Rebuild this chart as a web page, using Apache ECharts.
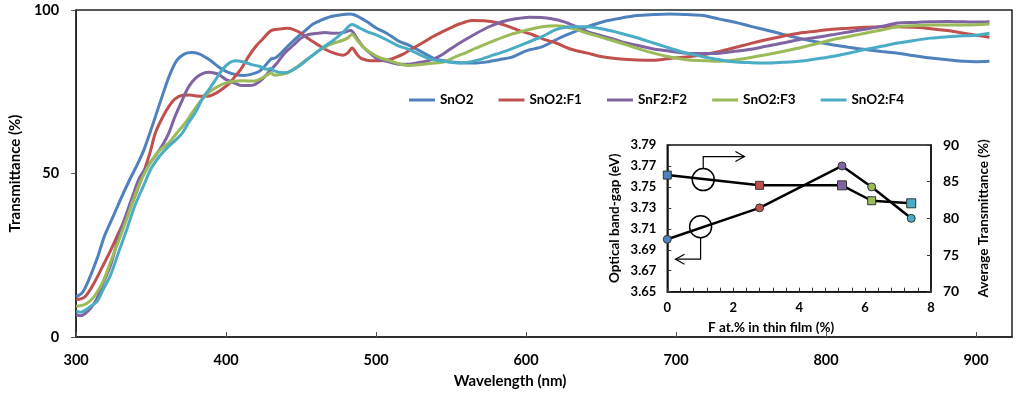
<!DOCTYPE html>
<html>
<head>
<meta charset="utf-8">
<script src="https://cdn.jsdelivr.net/npm/echarts@6/dist/echarts.min.js"></script>
<style>
html,body{margin:0;padding:0;background:#fff;}
#chart{width:1024px;height:394px;}
</style>
</head>
<body>
<div id="chart"></div>
<script>
// ---- Main chart data (wavelength nm, transmittance %) ----
const seriesNames = ['SnO2', 'SnO2:F1', 'SnF2:F2', 'SnO2:F3', 'SnO2:F4'];
const xTicks = [300, 400, 500, 600, 700, 800, 900];
const yTicks = [0, 50, 100];

const sno2 = [[300,12.3],[304,13.5],[308,17],[314,24],[319,31],[325,37.2],[330,42.5],[336,48.4],[340,52],[345,57],[350,63.5],[354,69],[358,74.5],[362,79.7],[367,84.5],[372,86.5],[377,87],[382,86.6],[386,85.6],[390,84.4],[395,82.6],[401,81],[406,80.3],[412,80],[417,80.4],[422,81.2],[427,83.5],[430,85],[433,85.4],[436,86.5],[441,88.9],[447,91.5],[452,93.4],[458,95.7],[463,96.8],[470,98],[476,98.5],[483,98.8],[488,98],[494,96.4],[500,94.5],[507,92.9],[515,90.5],[522,89.2],[530,87.3],[538,85.3],[545,84.5],[552,84],[560,83.8],[567,83.8],[575,84.2],[582,84.8],[590,85.5],[600,87.5],[611,88.8],[620,90.9],[630,92.9],[641,94.9],[652,96.5],[663,97.5],[674,98.3],[685,98.6],[696,98.8],[707,98.6],[718,98.3],[729,97.2],[740,96.2],[750,95],[760,93.9],[771,92.6],[782,91.4],[793,90.3],[804,89.4],[815,88.6],[826,87.9],[837,87.3],[848,86.8],[859,86],[870,85.3],[881,84.8],[892,84.3],[900,84.2],[909,84.3]];
const sno2F1 = [[300,11.4],[305,12],[308,13.5],[312,16.5],[317,21],[323,26.5],[328,31.5],[334,37.5],[340,44],[345,50.4],[349,56],[353,62.6],[358,67.5],[362,70.6],[366,72.8],[371,73.9],[376,74],[380,73.7],[385,73.6],[389,73.7],[393,74.5],[397,75.7],[402,77.5],[406,79.7],[410,82],[415,85.8],[420,89],[424,90.9],[430,93.7],[436,94.2],[441,94.4],[445,94],[450,92.9],[455,91.2],[461,89.4],[466,88],[472,86.8],[478,86.2],[481,86.8],[484,88.4],[487,86.6],[490,85.2],[496,84.5],[502,84.5],[507,84.6],[513,85.5],[518,86.5],[523,87.9],[527,88.9],[533,90.5],[538,91.9],[544,93.3],[549,94.4],[556,95.8],[564,96.8],[572,96.7],[580,96.2],[588,95],[596,93.6],[604,92.5],[612,91],[620,89.9],[630,88],[641,86.8],[652,85.6],[663,85],[674,84.7],[685,84.6],[696,85.2],[707,85.6],[718,86.3],[729,87.3],[740,88.6],[750,89.8],[760,90.9],[771,92],[782,92.9],[793,93.5],[804,94.1],[815,94.4],[826,94.7],[837,94.9],[848,94.9],[859,94.7],[870,94.3],[881,93.7],[892,92.9],[900,92.3],[909,91.7]];
const snf2F2 = [[300,6.8],[303,6.5],[306,7.2],[310,9],[314,11.9],[318,16.5],[323,22],[328,30],[334,38.3],[338,43.5],[342,48.4],[347,52],[353,55.5],[358,59],[362,62.6],[366,67.5],[371,72.7],[375,76.5],[380,79.3],[385,80.7],[389,81],[394,80.5],[397,79.7],[400,78.7],[405,77.8],[410,76.9],[415,76.9],[419,77.2],[424,78.8],[429,81.3],[434,83.8],[439,86.8],[445,89.3],[450,91.4],[455,92.5],[461,92.9],[466,93.1],[472,92.9],[477,93],[483,93.7],[487,91.5],[491,88.9],[496,86.8],[500,85.3],[507,84.3],[514,83.5],[520,83.4],[527,83.8],[532,84.2],[538,85],[544,86.3],[549,87.9],[556,90],[567,92.9],[575,94.8],[584,96.4],[593,97.3],[602,97.8],[610,97.7],[617,97.3],[626,96.3],[633,95],[641,93.4],[652,91.9],[663,90.4],[674,89.2],[685,88.1],[696,87.4],[707,86.8],[718,86.7],[729,86.8],[738,87.3],[750,88],[760,88.9],[771,89.9],[782,90.9],[793,91.6],[804,92.4],[815,93.3],[826,94.1],[837,95],[848,96],[859,96.2],[870,96.4],[881,96.5],[892,96.4],[900,96.3],[909,96.4]];
const sno2F3 = [[300,9.4],[305,9.8],[309,10.9],[313,13],[318,17],[323,23],[329,30.2],[334,36.5],[340,44.3],[345,49.5],[351,54.4],[356,57.2],[362,59.5],[367,62.3],[373,65.6],[378,69],[384,72.7],[389,75],[395,76.7],[400,77.7],[405,78.2],[410,78.4],[415,78.3],[419,78.3],[424,79.2],[428,80.3],[430,80.8],[432,80.1],[436,80.3],[441,80.8],[447,82.5],[452,84.3],[458,86.2],[463,87.9],[468,89.2],[472,89.9],[477,90.6],[481,91.4],[484,92.6],[487,91],[492,88.4],[497,86.8],[502,85.5],[507,84.8],[515,83.6],[522,83],[530,83.3],[537,83.7],[545,84.1],[552,85.5],[560,87],[567,88.4],[578,90.5],[589,92.4],[600,93.8],[611,94.9],[620,95.2],[630,94.5],[641,92.9],[652,91.4],[663,89.9],[674,88.3],[685,86.8],[696,85.6],[707,84.8],[718,84.5],[729,84.3],[738,84.6],[750,85.5],[760,86.3],[771,87.3],[782,88.4],[793,89.6],[804,90.9],[815,91.9],[826,92.9],[837,93.9],[848,94.9],[859,95.2],[870,95.4],[881,95.4],[892,95.4],[900,95.5],[909,95.7]];
const sno2F4 = [[300,7.9],[303,7.6],[307,8.5],[310,9.5],[314,10.9],[318,14.5],[323,19],[328,25.5],[334,33.2],[339,40],[345,46.3],[350,51.5],[356,55.5],[361,58],[367,60.5],[371,62.5],[375,65.6],[380,69],[384,72.7],[389,76],[393,78.7],[397,81.5],[402,83.8],[406,84.5],[411,84.2],[417,83.3],[422,82.8],[428,81.8],[430,82.2],[432,81.4],[439,80.8],[444,81.5],[450,83.3],[455,85.2],[461,87.3],[466,89],[472,90.9],[478,93.2],[484,95.6],[489,94.5],[494,93.4],[500,92.4],[507,90.9],[514,89.2],[522,87.9],[527,86.8],[533,85.5],[538,84.8],[545,84.3],[556,83.8],[567,84.6],[578,86.2],[589,87.9],[600,89.9],[611,91.9],[620,94],[630,94.9],[641,94.9],[652,94.1],[663,92.9],[674,91.5],[685,89.9],[696,88.3],[707,86.8],[718,85.7],[729,84.8],[738,84.2],[750,83.9],[760,83.8],[771,84],[782,84.3],[793,85],[804,85.8],[815,86.8],[826,87.9],[837,88.9],[848,89.9],[859,90.7],[870,91.4],[881,91.8],[892,92.1],[900,92.3],[909,92.9]];

// ---- Inset data ----
const fContent = [0, 2.8, 5.3, 6.2, 7.4];            // F at.% in thin film
const bandGap = [3.70, 3.73, 3.77, 3.75, 3.72];      // eV (left axis)
const avgTrans = [85.9, 84.5, 84.5, 82.4, 82.05];    // % (right axis)
const insetXTicks = [0, 2, 4, 6, 8];
const insetLeftTicks = [3.65, 3.67, 3.69, 3.71, 3.73, 3.75, 3.77, 3.79];
const insetRightTicks = [70, 75, 80, 85, 90];
// annotation circles [x, y(eV), elbow y(eV), arrow end x, direction]
const annotUp = [1.09, 3.757, 3.779, 2.34, 1];
const annotDown = [1.01, 3.712, 3.681, 0.25, -1];

const colors = ['#4F81BD', '#C0504D', '#8064A2', '#9BBB59', '#4BACC6'];
const allData = [sno2, sno2F1, snf2F2, sno2F3, sno2F4];
const FONT = 'Lato';

const chart = echarts.init(document.getElementById('chart'), null, {renderer: 'canvas'});

const mainSeries = seriesNames.map((n, i) => ({
  name: n, type: 'line', xAxisIndex: 0, yAxisIndex: 0,
  data: allData[i], showSymbol: false, smooth: 0.3,
  lineStyle: {color: colors[i], width: 3}, itemStyle: {color: colors[i]}, z: 2 + i
}));

const bgData = fContent.map((x, i) => ({value: [x, bandGap[i]], itemStyle: {color: colors[i]}}));
const atData = fContent.map((x, i) => ({value: [x, avgTrans[i]], itemStyle: {color: colors[i]}, symbolSize: (i === 2 || i === 4) ? 9 : 8}));

function renderAnnot(params, api) {
  const x = api.value(0), y = api.value(1), yE = api.value(2), xE = api.value(3), dir = api.value(4);
  const c = api.coord([x, y]);
  const e = api.coord([x, yE]);
  const t = api.coord([xE, yE]);
  const r = 11;
  const startY = dir > 0 ? c[1] - r : c[1] + r;
  const ah = dir > 0 ? -9 : 9;
  return {
    type: 'group',
    children: [
      {type: 'circle', shape: {cx: c[0], cy: c[1], r: r}, style: {fill: 'none', stroke: '#000', lineWidth: 1.5}},
      {type: 'polyline', shape: {points: [[c[0], startY], [c[0], e[1]], [t[0], e[1]]]}, style: {fill: 'none', stroke: '#000', lineWidth: 1.2}},
      {type: 'polyline', shape: {points: [[t[0] + ah, e[1] - 5], [t[0], e[1]], [t[0] + ah, e[1] + 5]]}, style: {fill: 'none', stroke: '#000', lineWidth: 1.2}}
    ]
  };
}

const axisFont = {fontFamily: FONT, fontWeight: 'bold', color: '#000'};

const option = {
  animation: false,
  backgroundColor: '#fff',
  textStyle: {fontFamily: FONT},
  legend: {
    data: seriesNames, left: 409, top: 93, icon: 'rect', itemWidth: 26, itemHeight: 3, itemGap: 25,
    textStyle: Object.assign({fontSize: 13.5}, axisFont), padding: 0
  },
  grid: [
    {left: 65.7, top: 10, right: 12, bottom: 54.7, show: true, borderColor: '#222', borderWidth: 1.5, backgroundColor: 'transparent'},
    {left: 667.3, top: 145, right: 93, bottom: 102.3, show: true, borderColor: '#111', borderWidth: 1.5, backgroundColor: '#fff'}
  ],
  xAxis: [
    {
      type: 'value', gridIndex: 0, min: 300, max: 924, interval: 100,
      name: 'Wavelength (nm)', nameLocation: 'middle', nameGap: 37,
      nameTextStyle: Object.assign({fontSize: 15, padding: [0, 68, 0, 0]}, axisFont),
      axisLine: {lineStyle: {color: '#222', width: 1.5}},
      axisTick: {inside: true, length: 5, lineStyle: {color: '#555'}},
      axisLabel: Object.assign({fontSize: 14.5, margin: 16, showMaxLabel: false}, axisFont),
      splitLine: {show: false}
    },
    {
      type: 'value', gridIndex: 1, min: 0, max: 8, interval: 2,
      name: 'F at.% in thin film (%)', nameLocation: 'middle', nameGap: 29,
      nameTextStyle: Object.assign({fontSize: 13.5, padding: [0, 56, 0, 0]}, axisFont),
      axisLine: {lineStyle: {color: '#111', width: 1.5}},
      axisTick: {inside: true, length: 4, lineStyle: {color: '#333'}},
      minorTick: {show: true, splitNumber: 5, length: 4, lineStyle: {color: '#333'}},
      axisLabel: Object.assign({fontSize: 13, margin: 10}, axisFont),
      splitLine: {show: false}
    }
  ],
  yAxis: [
    {
      type: 'value', gridIndex: 0, min: 0, max: 100, interval: 50,
      name: 'Transmittance (%)', nameLocation: 'middle', nameGap: 50, nameRotate: 90,
      nameTextStyle: Object.assign({fontSize: 15}, axisFont),
      axisLine: {show: true, lineStyle: {color: '#222', width: 1.5}},
      axisTick: {show: true, inside: false, length: 5, lineStyle: {color: '#555'}},
      axisLabel: Object.assign({fontSize: 14.5, margin: 17}, axisFont),
      splitLine: {show: false}
    },
    {
      type: 'value', gridIndex: 1, min: 3.65, max: 3.79, interval: 0.02, position: 'left',
      name: 'Optical band-gap (eV)', nameLocation: 'middle', nameGap: 46, nameRotate: 90,
      nameTextStyle: Object.assign({fontSize: 13.5}, axisFont),
      axisLine: {show: true, lineStyle: {color: '#111', width: 1.5}},
      axisTick: {show: true, inside: true, length: 4, lineStyle: {color: '#333'}},
      axisLabel: Object.assign({fontSize: 13, margin: 11, formatter: v => v.toFixed(2)}, axisFont),
      splitLine: {show: false}
    },
    {
      type: 'value', gridIndex: 1, min: 70, max: 90, interval: 5, position: 'right',
      name: 'Average Transmittance (%)', nameLocation: 'middle', nameGap: 46, nameRotate: 90,
      nameTextStyle: Object.assign({fontSize: 13.5}, axisFont),
      axisLine: {show: true, lineStyle: {color: '#111', width: 1.5}},
      axisTick: {show: true, inside: true, length: 4, lineStyle: {color: '#333'}},
      axisLabel: Object.assign({fontSize: 14, margin: 12}, axisFont),
      splitLine: {show: false}
    }
  ],
  series: mainSeries.concat([
    {
      name: 'Optical band-gap', type: 'line', xAxisIndex: 1, yAxisIndex: 1,
      data: bgData, symbol: 'circle', symbolSize: 8, showSymbol: true,
      lineStyle: {color: '#000', width: 2.5},
      itemStyle: {borderColor: '#333', borderWidth: 1}, z: 10
    },
    {
      name: 'Average Transmittance', type: 'line', xAxisIndex: 1, yAxisIndex: 2,
      data: atData, symbol: 'rect', symbolSize: 8, showSymbol: true,
      lineStyle: {color: '#000', width: 2.5},
      itemStyle: {borderColor: '#333', borderWidth: 1}, z: 10
    },
    {
      name: 'annotations', type: 'custom', xAxisIndex: 1, yAxisIndex: 1,
      data: [annotUp, annotDown], renderItem: renderAnnot, z: 11, silent: true
    }
  ])
};
chart.setOption(option);
</script>
</body>
</html>
